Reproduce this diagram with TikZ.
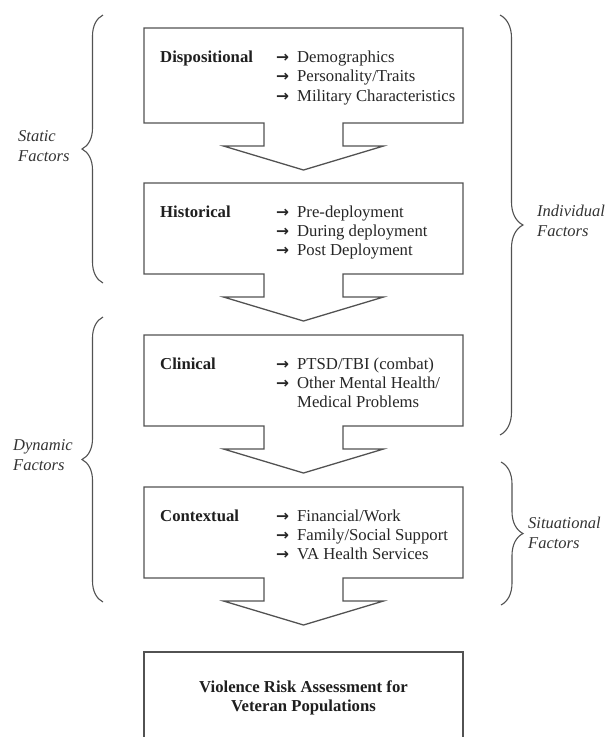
\documentclass[tikz,border=0pt]{standalone}
\usepackage{fontspec}
\setmainfont{Liberation Serif}
\newfontfamily\arrowfont{DejaVu Sans}
\usetikzlibrary{calc,decorations.pathreplacing}

\tikzset{
  outline/.style={draw=black!68, line width=1.3pt, line join=miter},
  boxshape/.style={draw=none, minimum width=319pt, inner sep=0pt, outer sep=0pt},
  boxtitle/.style={anchor=base west, inner sep=0pt, font=\fontsize{16.7}{19.3}\selectfont\bfseries, text=black!88},
  itemlist/.style={anchor=base west, inner sep=0pt, font=\fontsize{16.7}{19.3}\selectfont, text=black!85},
  sidelabel/.style={anchor=west, inner sep=0pt, align=left, font=\fontsize{16.5}{20}\selectfont\itshape, text=black!80},
  bracket/.style={draw=black!68, line width=1.1pt, decorate, decoration={brace, amplitude=#1}},
}
\newcommand\arr{{\arrowfont\bfseries\fontsize{15.5}{19.3}\selectfont →}}
\newcommand\boxarrow[1]{%
  \draw[outline] ($(#1.south)+(-39.5,0)$) -- (#1.south west) -- (#1.north west) -- (#1.north east) -- (#1.south east)
    -- ($(#1.south)+(39.5,0)$) -- ++(0,23) -- ++(40.5,0) -- ($(#1.south)+(0,47)$)
    -- ($(#1.south)+(-80,23)$) -- ++(40.5,0) -- cycle;}

\begin{document}
\begin{tikzpicture}[x=1pt,y=-1pt]
\useasboundingbox[fill=white] (0,0) rectangle (610,737);

% boxes
\node[boxshape, minimum height=95pt] (b1) at (303.5,75.5) {};
\node[boxshape, minimum height=91pt] (b2) at (303.5,228.5) {};
\node[boxshape, minimum height=91pt] (b3) at (303.5,380.5) {};
\node[boxshape, minimum height=91pt] (b4) at (303.5,532.5) {};
\node[boxshape, minimum height=85pt] (b5) at (303.5,694.5) {};

\boxarrow{b1}
\boxarrow{b2}
\boxarrow{b3}
\boxarrow{b4}
\draw[outline] (b5.south west) -- (b5.north west) -- (b5.north east) -- (b5.south east);

% titles
\node[boxtitle] (t1) at (160,62.5) {Dispositional};
\node[boxtitle] (t2) at (160,217) {Historical};
\node[boxtitle] (t3) at (160,369) {Clinical};
\node[boxtitle] (t4) at (160,521) {Contextual};

% item lists
\node[itemlist] (l1) at (276,62.5) {\begin{tabular}[t]{@{}l@{\hspace{8pt}}l@{}}\arr & Demographics\\ \arr & Personality/Traits\\ \arr & Military Characteristics\end{tabular}};
\node[itemlist] (l2) at (276,217) {\begin{tabular}[t]{@{}l@{\hspace{8pt}}l@{}}\arr & Pre-deployment\\ \arr & During deployment\\ \arr & Post Deployment\end{tabular}};
\node[itemlist] (l3) at (276,369) {\begin{tabular}[t]{@{}l@{\hspace{8pt}}l@{}}\arr & PTSD/TBI (combat)\\ \arr & Other Mental Health/\\ & Medical Problems\end{tabular}};
\node[itemlist] (l4) at (276,521) {\begin{tabular}[t]{@{}l@{\hspace{8pt}}l@{}}\arr & Financial/Work\\ \arr & Family/Social Support\\ \arr & VA Health Services\end{tabular}};

\node[align=center, inner sep=0pt, font=\fontsize{16.7}{19.5}\selectfont\bfseries, text=black!88] (t5) at (303.5,698) {Violence Risk Assessment for\\Veteran Populations};

% braces
\coordinate (s1) at (103,283); \coordinate (s2) at (103,15);
\coordinate (d1) at (103,602); \coordinate (d2) at (103,317);
\coordinate (i1) at (500,15);  \coordinate (i2) at (500,435);
\coordinate (u1) at (501,462); \coordinate (u2) at (501,605);
\draw[bracket=21pt] (s1) -- (s2);
\draw[bracket=21pt] (d1) -- (d2);
\draw[bracket=23pt] (i1) -- (i2);
\draw[bracket=22pt] (u1) -- (u2);

% side labels
\node[sidelabel] (ls) at (18,146) {Static\\Factors};
\node[sidelabel] (ld) at (13,455) {Dynamic\\Factors};
\node[sidelabel] (li) at (537,221) {Individual\\Factors};
\node[sidelabel] (lu) at (528,533) {Situational\\Factors};
\end{tikzpicture}
\end{document}
